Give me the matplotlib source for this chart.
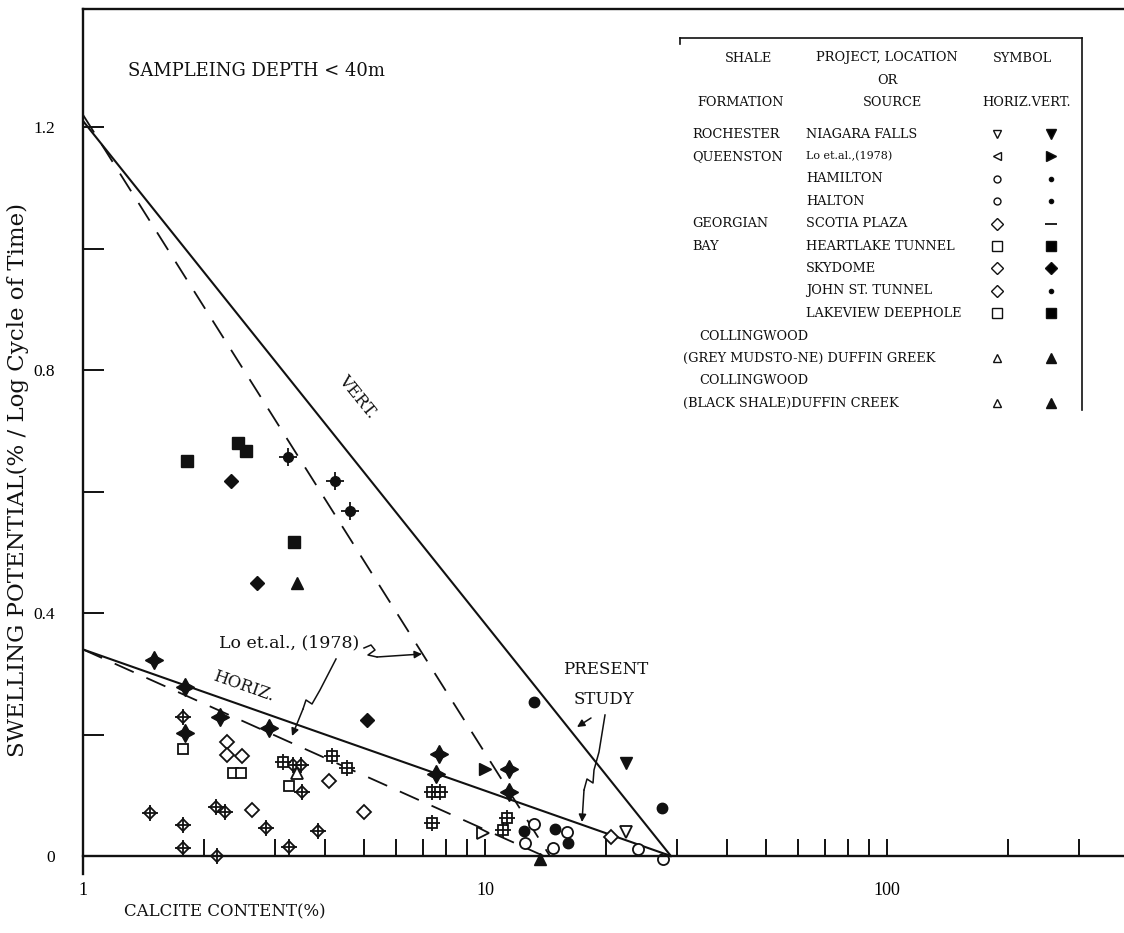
import matplotlib
matplotlib.use("Agg")
import matplotlib.pyplot as plt
from matplotlib.ticker import NullFormatter, FixedLocator
from matplotlib.patches import Rectangle

plt.rcParams['font.family'] = ['Liberation Serif', 'DejaVu Serif']
plt.rcParams['lines.scale_dashes'] = False
SERIF2 = ['DejaVu Serif', 'Liberation Serif']

# ---------------- data ----------------
# vertical direction samples (filled symbols)
vert_square_x = [1.81, 2.43, 2.54, 3.35]
vert_square_y = [0.650, 0.680, 0.667, 0.517]
vert_diamond_x = [2.33, 2.71, 5.09]
vert_diamond_y = [0.617, 0.449, 0.224]
vert_triangle_x = [3.41, 13.7]
vert_triangle_y = [0.449, -0.005]
vert_crossdot_x = [3.24, 4.24, 4.62]
vert_crossdot_y = [0.657, 0.617, 0.568]
vert_star_x = [1.50, 1.79, 2.19, 1.79, 2.90, 7.68, 7.55, 11.5, 11.5]
vert_star_y = [0.323, 0.278, 0.229, 0.202, 0.211, 0.168, 0.135, 0.143, 0.105]
vert_dot_x = [13.24, 12.5, 14.9, 16.1, 27.6]
vert_dot_y = [0.253, 0.041, 0.044, 0.021, 0.079]
vert_rtri_x = [10.0]
vert_rtri_y = [0.143]
vert_dtri_x = [22.4]
vert_dtri_y = [0.153]

# horizontal direction samples (open symbols)
horiz_square_x = [1.77, 2.36, 2.47, 3.25]
horiz_square_y = [0.176, 0.137, 0.137, 0.115]
horiz_diamond_x = [2.28, 2.28, 2.49, 4.09, 5.0, 2.63, 20.6]
horiz_diamond_y = [0.188, 0.166, 0.165, 0.123, 0.072, 0.076, 0.031]
horiz_triangle_x = [3.41]
horiz_triangle_y = [0.137]
horiz_circle_x = [13.24, 12.6, 16.0, 14.8, 24.0, 27.7]
horiz_circle_y = [0.053, 0.021, 0.040, 0.013, 0.012, -0.005]
horiz_dtri_x = [22.4]
horiz_dtri_y = [0.040]
horiz_rtri_x = [9.9]
horiz_rtri_y = [0.038]
horiz_crossdia_x = [1.77, 1.47, 1.77, 2.14, 2.26, 2.85, 3.84, 3.25, 1.77, 2.15, 3.33, 3.49, 3.51]
horiz_crossdia_y = [0.229, 0.071, 0.051, 0.081, 0.072, 0.046, 0.041, 0.015, 0.013, 0.0, 0.150, 0.150, 0.105]
horiz_crosssq_x = [3.15, 4.16, 4.54, 7.4, 7.75, 7.4, 11.35, 11.1]
horiz_crosssq_y = [0.155, 0.165, 0.145, 0.105, 0.105, 0.054, 0.063, 0.043]

# trend lines
vert_fit_x = [1, 29]
vert_fit_y = [1.21, 0.0]
horiz_fit_x = [1, 29]
horiz_fit_y = [0.34, 0.0]
lo_vert_x = [1, 14.5]
lo_vert_y = [1.22, 0.0]
lo_horiz_x = [1, 14]
lo_horiz_y = [0.34, 0.0]

x_ticks = [1, 10, 100]
x_ticklabels = ['1', '10', '100']
x_minor = [2, 3, 4, 5, 6, 7, 8, 9, 20, 30, 40, 50, 60, 70, 80, 90, 200, 300]
y_ticks = [0, 0.4, 0.8, 1.2]
y_ticklabels = ['0', '0.4', '0.8', '1.2']
y_minor = [0.2, 0.6, 1.0]

legend_formation = ['ROCHESTER', 'QUEENSTON', '', '', 'GEORGIAN', 'BAY', '', '', '']
legend_source = ['NIAGARA FALLS', 'Lo et.al.,(1978)', 'HAMILTON', 'HALTON', 'SCOTIA PLAZA',
                 'HEARTLAKE TUNNEL', 'SKYDOME', 'JOHN ST. TUNNEL', 'LAKEVIEW DEEPHOLE']
legend_horiz = [('v', 6, 'none'), ('<', 6, 'none'), ('o', 5, 'none'), ('o', 5, 'none'), ('D', 6, 'none'),
                ('s', 7, 'none'), ('D', 6, 'none'), ('D', 6, 'none'), ('s', 7, 'none')]
legend_vert = [('v', 7, 'k'), ('>', 7, 'k'), ('o', 3, 'k'), ('o', 3, 'k'), ('_', 8, 'k'),
               ('s', 7, 'k'), ('D', 6, 'k'), ('o', 3, 'k'), ('s', 7, 'k')]

# ---------------- figure geometry ----------------
W, H = 1124, 933
X0, X1 = 83, 1124        # left spine / right edge (px)
Y0PIX, YTOP, YBOT = 856, 9, 874
PPU = 607.5              # px per unit y
DEC = 402                # px per decade

fig = plt.figure(figsize=(W / 100, H / 100), dpi=100)
ax = fig.add_axes([X0 / W, (H - YBOT) / H, (X1 - X0) / W, (YBOT - YTOP) / H])
ax.set_xscale('log')
ax.set_xlim(1, 10 ** ((X1 - X0) / DEC))
ax.set_ylim(-(YBOT - Y0PIX) / PPU, (Y0PIX - YTOP) / PPU)

K = '#111111'
for s in ['left', 'top', 'bottom']:
    ax.spines[s].set_linewidth(1.7)
    ax.spines[s].set_color(K)
ax.spines['right'].set_visible(False)
ax.spines['bottom'].set_position(('data', 0))

ax.set_xticks(x_ticks)
ax.set_xticklabels(x_ticklabels)
ax.xaxis.set_minor_locator(FixedLocator(x_minor))
ax.xaxis.set_minor_formatter(NullFormatter())
ax.set_yticks(y_ticks)
ax.set_yticklabels(y_ticklabels)
ax.yaxis.set_minor_locator(FixedLocator(y_minor))
ax.tick_params(axis='x', which='both', direction='in', length=12, width=1.4, pad=19,
               labelsize=13, color=K)
ax.tick_params(axis='y', which='both', direction='in', length=15, width=1.4, pad=20,
               labelsize=12.5, color=K)


def px(xp, yp):
    return 10 ** ((xp - X0) / DEC), (Y0PIX - yp) / PPU


# trend lines
ax.plot(vert_fit_x, vert_fit_y, color=K, lw=1.5)
ax.plot(horiz_fit_x, horiz_fit_y, color=K, lw=1.5)
ax.plot(lo_vert_x, lo_vert_y, color=K, lw=1.3, dashes=(15, 10))
ax.plot(lo_horiz_x, lo_horiz_y, color=K, lw=1.3, dashes=(15, 10))

mk = dict(linestyle='none', color=K, clip_on=False)
# vertical (filled)
ax.plot(vert_square_x, vert_square_y, marker='s', ms=8, mfc=K, mec=K, **mk)
ax.plot(vert_diamond_x, vert_diamond_y, marker='D', ms=7, mfc=K, mec=K, **mk)
ax.plot(vert_triangle_x, vert_triangle_y, marker='^', ms=8, mfc=K, mec=K, **mk)
ax.plot(vert_crossdot_x, vert_crossdot_y, marker='o', ms=7, mfc=K, mec=K, **mk)
ax.plot(vert_crossdot_x, vert_crossdot_y, marker='+', ms=13, mew=1.3, **mk)
ax.plot(vert_star_x, vert_star_y, marker=(4, 1, 0), ms=13, mfc=K, mec=K, **mk)
ax.plot(vert_dot_x, vert_dot_y, marker='o', ms=7.5, mfc=K, mec=K, **mk)
ax.plot(vert_rtri_x, vert_rtri_y, marker='>', ms=8, mfc=K, mec=K, **mk)
ax.plot(vert_dtri_x, vert_dtri_y, marker='v', ms=8.5, mfc=K, mec=K, **mk)
# horizontal (open)
ow = dict(mfc='white', mec=K, mew=1.3)
ax.plot(horiz_square_x, horiz_square_y, marker='s', ms=7.5, **ow, **mk)
ax.plot(horiz_diamond_x, horiz_diamond_y, marker='D', ms=7, **ow, **mk)
ax.plot(horiz_triangle_x, horiz_triangle_y, marker='^', ms=8, **ow, **mk)
ax.plot(horiz_circle_x, horiz_circle_y, marker='o', ms=8, **ow, **mk)
ax.plot(horiz_dtri_x, horiz_dtri_y, marker='v', ms=8, **ow, **mk)
ax.plot(horiz_rtri_x, horiz_rtri_y, marker='>', ms=8, **ow, **mk)
ax.plot(horiz_crossdia_x, horiz_crossdia_y, marker='D', ms=6.5, **ow, **mk)
ax.plot(horiz_crossdia_x, horiz_crossdia_y, marker='+', ms=12, mew=1.3, **mk)
ax.plot(horiz_crosssq_x, horiz_crosssq_y, marker='s', ms=7, **ow, **mk)
ax.plot(horiz_crosssq_x, horiz_crosssq_y, marker='+', ms=12, mew=1.3, **mk)

# ---------------- annotations ----------------
tx = dict(ha='center', va='center', color=K, family=SERIF2)
ax.text(*px(256, 71), 'SAMPLEING DEPTH < 40m', fontsize=13, **tx)
ax.text(*px(357, 397), 'VERT.', fontsize=12, rotation=-51, rotation_mode='anchor', **tx)
ax.text(*px(244, 686), 'HORIZ.', fontsize=12, rotation=-19.5, rotation_mode='anchor', **tx)
ax.text(*px(289, 643), 'Lo et.al., (1978)', fontsize=12.5, **tx)
ax.text(*px(606, 669), 'PRESENT', fontsize=12, **tx)
ax.text(*px(604, 699), 'STUDY', fontsize=12, **tx)


def squiggle(points):
    pts = [px(a, b) for a, b in points]
    xs = [p[0] for p in pts[:-1]]
    ys = [p[1] for p in pts[:-1]]
    ax.plot(xs, ys, color=K, lw=1.1)
    ax.annotate('', xy=pts[-1], xytext=pts[-2],
                arrowprops=dict(arrowstyle='-|>', color=K, lw=1.1, mutation_scale=11,
                                shrinkA=0, shrinkB=0))


squiggle([(364, 648), (371, 645), (375, 650), (368, 655), (377, 657), (422, 654)])
squiggle([(336, 659), (320, 690), (312, 704), (306, 700), (303, 709), (292, 736)])
squiggle([(591, 718), (577, 727)])
squiggle([(605, 715), (599, 752), (594, 770), (593, 783), (587, 779), (584, 790), (582, 822)])

# axis titles
fig.text(18 / W, 1 - 480 / H, 'SWELLING POTENTIAL(% / Log Cycle of Time)', rotation=90,
         fontsize=16.5, color=K, ha='center', va='center', family=SERIF2)
fig.text(225 / W, 1 - 912 / H, 'CALCITE CONTENT(%)', fontsize=12, color=K,
         ha='center', va='center', family=SERIF2)

# ---------------- legend table ----------------
lg = fig.add_axes([0, 0, 1, 1], zorder=5)
lg.set_xlim(0, W)
lg.set_ylim(H, 0)
lg.axis('off')
lg.patch.set_alpha(0)

lg.plot([680, 1082], [38, 38], color=K, lw=1.2)
lg.plot([1082, 1082], [38, 410], color=K, lw=1.2)
lg.plot([680, 680], [38, 44], color=K, lw=1.2)

clip = Rectangle((670, 30), 420, 380, transform=lg.transData, facecolor='none', edgecolor='none')
lg.add_patch(clip)

fs = 9.3
hdr = dict(fontsize=fs, va='center', color=K, family=SERIF2)
lg.text(748, 58, 'SHALE', ha='center', **hdr)
lg.text(887, 58, 'PROJECT, LOCATION', ha='center', **hdr)
lg.text(1023, 58, 'SYMBOL', ha='center', **hdr)
lg.text(887, 80, 'OR', ha='center', **hdr)
lg.text(741, 103, 'FORMATION', ha='center', **hdr)
lg.text(893, 103, 'SOURCE', ha='center', **hdr)
lg.text(1027, 103, 'HORIZ.VERT.', ha='center', **hdr)

row0, dy = 134, 22.4
for i in range(len(legend_source)):
    yy = row0 + i * dy
    lg.text(692, yy, legend_formation[i], ha='left', **hdr)
    lg.text(806, yy, legend_source[i], ha='left',
            fontsize=(8.0 if i == 1 else fs), va='center', color=K, family=SERIF2)
    m, s, f = legend_horiz[i]
    lg.plot([997], [yy], marker=m, ms=s, mfc=f, mec=K, mew=1.0, color=K, linestyle='none')
    m, s, f = legend_vert[i]
    lg.plot([1051], [yy], marker=m, ms=s, mfc=f, mec=K, mew=(1.3 if m == '_' else 1.0),
            color=K, linestyle='none')

extra_rows = [(336, 699, 'COLLINGWOOD', None),
              (358, 683, '(GREY MUDSTO-NE) DUFFIN GREEK', True),
              (381, 699, 'COLLINGWOOD', None),
              (403, 683, '(BLACK SHALE)DUFFIN CREEK', True)]
for yy, xx, txt, sym in extra_rows:
    t = lg.text(xx, yy, txt, ha='left', **hdr)
    t.set_clip_path(clip)
    if sym:
        lg.plot([997], [yy], marker='^', ms=6, mfc='none', mec=K, mew=1.0, linestyle='none')
        lg.plot([1051], [yy], marker='^', ms=7, mfc=K, mec=K, linestyle='none')

fig.savefig('out.png', dpi=100, facecolor='white')
